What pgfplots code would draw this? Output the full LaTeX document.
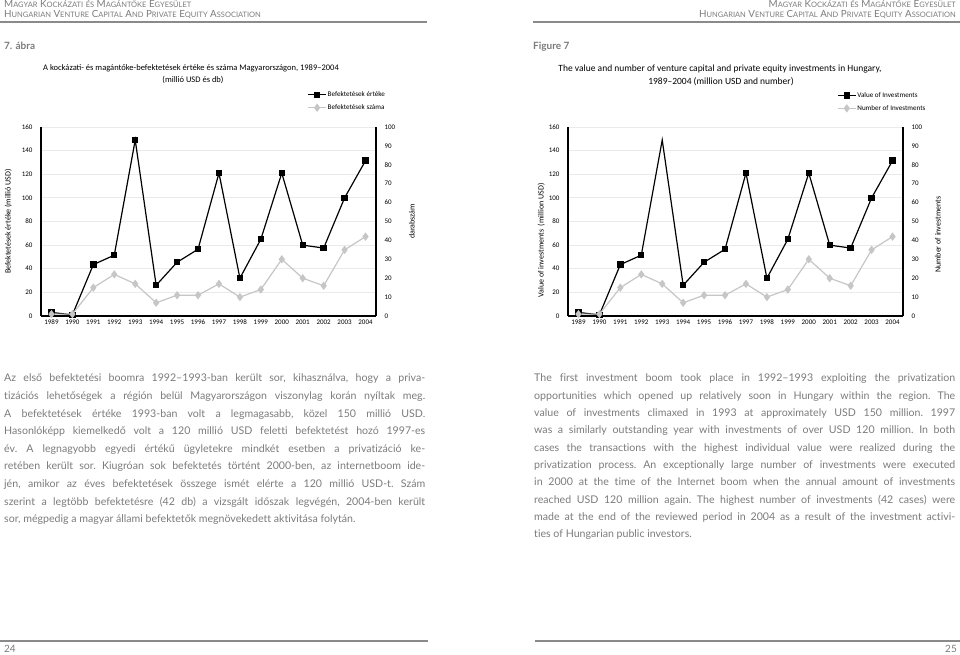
\documentclass[border=0pt]{standalone}
\usepackage{fontspec}
\setmainfont{Lato}[Ligatures={NoCommon,TeX}]
\newfontfamily\chartfont{Carlito}
\usepackage{pgfplots}
\pgfplotsset{compat=1.18}

\definecolor{txtgray}{HTML}{7C7C7C}
\definecolor{rulegray}{HTML}{8A8A8A}
\definecolor{numgray}{HTML}{C6C6C6}
\definecolor{gridgray}{HTML}{EAEAEA}

% value (million USD) and number of investments
\pgfplotstableread{
year value number
1989 3     1
1990 1     1
1991 43.5  15
1992 51.5  22
1993 149   17
1994 26    7
1995 45.5  11
1996 56.5  11
1997 121   17
1998 32    10
1999 65    14
2000 121   30
2001 60    20
2002 57.5  16
2003 100   35
2004 131.5 42
}\invest

\pgfplotsset{
  chart/.style={scale only axis, width=335pt, height=189pt, anchor=south west,
    xmin=1988.5, xmax=2004.5, ymin=0, major tick length=0pt,
    tick label style={font=\chartfont\fontsize{7}{8}\selectfont},
    /pgf/number format/assume math mode=true,
    /pgf/number format/1000 sep={},
    axis line style={line width=1.2pt}, clip=false,
    label style={font=\chartfont\fontsize{8}{9}\selectfont}},
  valline/.style={black, line width=1.2pt, mark=square*, mark size=2.6pt, mark options={solid}},
  numline/.style={numgray, line width=1.2pt, mark=diamond*, mark size=3.2pt, mark options={fill=numgray}},
  leg/.style={legend cell align=left, legend style={draw=none, fill=none, inner sep=0pt,
    row sep=4.5pt, font=\chartfont\fontsize{7.1}{8}\selectfont,
    nodes={inner sep=1pt}},
    legend image code/.code={\draw[mark repeat=2, mark phase=2, ##1] plot coordinates {(0pt,0pt) (9pt,0pt) (18pt,0pt)};}},
}

\newcommand\hsc[2]{{\fontsize{9.8}{11}\selectfont #1}{\fontsize{7.5}{9}\selectfont #2}}
\newcommand\jl[1]{\hbox to 421pt{\spaceskip=0.25em plus 1fil minus 0.12em #1}}

\begin{document}
\begin{tikzpicture}
\path[use as bounding box, fill=white] (0pt,0pt) rectangle (960pt,655pt);

% running heads
\begin{scope}[txtgray]
\node[anchor=base west, inner sep=0] at (4pt,647pt) {\hsc{M}{AGYAR} \hsc{K}{OCKÁZATI} {\fontsize{7.5}{9}\selectfont ÉS} \hsc{M}{AGÁNTŐKE} \hsc{E}{GYESÜLET}};
\node[anchor=base west, inner sep=0] at (4pt,637pt) {\hsc{H}{UNGARIAN} \hsc{V}{ENTURE} \hsc{C}{APITAL} \hsc{A}{ND} \hsc{P}{RIVATE} \hsc{E}{QUITY} \hsc{A}{SSOCIATION}};
\node[anchor=base east, inner sep=0] at (956pt,647pt) {\hsc{M}{AGYAR} \hsc{K}{OCKÁZATI} {\fontsize{7.5}{9}\selectfont ÉS} \hsc{M}{AGÁNTŐKE} \hsc{E}{GYESÜLET}};
\node[anchor=base east, inner sep=0] at (956pt,637pt) {\hsc{H}{UNGARIAN} \hsc{V}{ENTURE} \hsc{C}{APITAL} \hsc{A}{ND} \hsc{P}{RIVATE} \hsc{E}{QUITY} \hsc{A}{SSOCIATION}};
\end{scope}
\draw[rulegray, line width=1.3pt] (0pt,633pt) -- (427pt,633pt) (533pt,633pt) -- (960pt,633pt);

\node[anchor=base west, inner sep=0, txtgray, font=\bfseries\fontsize{10}{12}\selectfont] at (4pt,605pt) {7. ábra};
\node[anchor=base west, inner sep=0, txtgray, font=\bfseries\fontsize{10}{12}\selectfont] at (533pt,605pt) {Figure 7};

% chart titles
\node[anchor=base, inner sep=0, font=\chartfont\fontsize{8.5}{10}\selectfont] at (191pt,584pt) {A kockázati- és magántőke-befektetések értéke és száma Magyarországon, 1989–2004};
\node[anchor=base, inner sep=0, font=\chartfont\fontsize{8.5}{10}\selectfont] at (193pt,572pt) {(millió USD és db)};
\node[anchor=base, inner sep=0, font=\chartfont\fontsize{9.5}{11}\selectfont] at (720pt,583pt) {The value and number of venture capital and private equity investments in Hungary,};
\node[anchor=base, inner sep=0, font=\chartfont\fontsize{9.5}{11}\selectfont] at (721pt,570pt) {1989–2004 (million USD and number)};

% left chart (Hungarian)
\begin{axis}[chart, leg, at={(41pt,339pt)}, ymax=160, ytick={0,20,...,160},
  axis y line*=left, axis x line*=bottom, xtick={1989,...,2004},
  ymajorgrids, grid style={gridgray, line width=0.8pt},
  yticklabel style={xshift=-5pt},
  ylabel={Befektetések értéke (millió USD)},
  ylabel style={at={(axis description cs:-0.098,0.5)}, anchor=center},
  legend style={at={(axis description cs:0.795,1.136)}, anchor=west}]
\addplot[valline] table[x=year, y=value] {\invest};
\addlegendentry{Befektetések értéke}
\addlegendimage{numline}
\addlegendentry{Befektetések száma}
\end{axis}
\begin{axis}[chart, at={(41pt,339pt)}, ymax=100, ytick={0,10,...,100},
  axis y line*=right, axis x line=none,
  yticklabel style={xshift=5pt},
  ylabel={darabszám},
  ylabel style={at={(axis description cs:1.107,0.5)}, anchor=center, rotate=0}]
\addplot[numline] table[x=year, y=number] {\invest};
\end{axis}

% right chart (English)
\begin{axis}[chart, leg, at={(568pt,339pt)}, ymax=160, ytick={0,20,...,160},
  axis y line*=left, axis x line*=bottom, xtick={1989,...,2004},
  ymajorgrids, grid style={gridgray, line width=0.8pt},
  yticklabel style={xshift=-5pt},
  ylabel={Value of investments\ \ (million USD)},
  ylabel style={at={(axis description cs:-0.08,0.40)}, anchor=center},
  legend style={at={(axis description cs:0.803,1.133)}, anchor=west}]
\addplot[valline, forget plot, mark indices={1,2,3,4,6,7,8,9,10,11,12,13,14,15,16}] table[x=year, y=value] {\invest};
\addlegendimage{valline}
\addlegendentry{Value of Investments}
\addlegendimage{numline}
\addlegendentry{Number of Investments}
\end{axis}
\begin{axis}[chart, at={(568pt,339pt)}, ymax=100, ytick={0,10,...,100},
  axis y line*=right, axis x line=none,
  yticklabel style={xshift=5pt},
  ylabel={Number of investments},
  ylabel style={at={(axis description cs:1.104,0.43)}, anchor=center, rotate=0}]
\addplot[numline] table[x=year, y=number] {\invest};
\end{axis}

% body text
\node[anchor=base west, inner sep=0, txtgray] at (4pt,273pt) {\fontsize{10.6}{17.6}\selectfont\frenchspacing\vtop{\hsize=421pt\baselineskip=17.6pt
\jl{Az első befektetési boomra 1992–1993-ban került sor, kihasználva, hogy a priva-}
\jl{tizációs lehetőségek a régión belül Magyarországon viszonylag korán nyíltak meg.}
\jl{A befektetések értéke 1993-ban volt a legmagasabb, közel 150 millió USD.}
\jl{Hasonlóképp kiemelkedő volt a 120 millió USD feletti befektetést hozó 1997-es}
\jl{év. A legnagyobb egyedi értékű ügyletekre mindkét esetben a privatizáció ke-}
\jl{retében került sor. Kiugróan sok befektetés történt 2000-ben, az internetboom ide-}
\jl{jén, amikor az éves befektetések összege ismét elérte a 120 millió USD-t. Szám}
\jl{szerint a legtöbb befektetésre (42 db) a vizsgált időszak legvégén, 2004-ben került}
\hbox{sor, mégpedig a magyar állami befektetők megnövekedett aktivitása folytán.}}};

\node[anchor=base west, inner sep=0, txtgray] at (534pt,273pt) {\fontsize{10.6}{17.3}\selectfont\frenchspacing\vtop{\hsize=421pt\baselineskip=17.3pt
\jl{The first investment boom took place in 1992–1993 exploiting the privatization}
\jl{opportunities which opened up relatively soon in Hungary within the region. The}
\jl{value of investments climaxed in 1993 at approximately USD 150 million. 1997}
\jl{was a similarly outstanding year with investments of over USD 120 million. In both}
\jl{cases the transactions with the highest individual value were realized during the}
\jl{privatization process. An exceptionally large number of investments were executed}
\jl{in 2000 at the time of the Internet boom when the annual amount of investments}
\jl{reached USD 120 million again. The highest number of investments (42 cases) were}
\jl{made at the end of the reviewed period in 2004 as a result of the investment activi-}
\hbox{ties of Hungarian public investors.}}};

% page foot
\draw[rulegray, line width=1.3pt] (0pt,14pt) -- (428pt,14pt) (535pt,14pt) -- (960pt,14pt);
\node[anchor=base west, inner sep=0, txtgray, font=\fontsize{10}{12}\selectfont] at (4pt,2pt) {24};
\node[anchor=base east, inner sep=0, txtgray, font=\fontsize{10}{12}\selectfont] at (957pt,2pt) {25};
\end{tikzpicture}
\end{document}
